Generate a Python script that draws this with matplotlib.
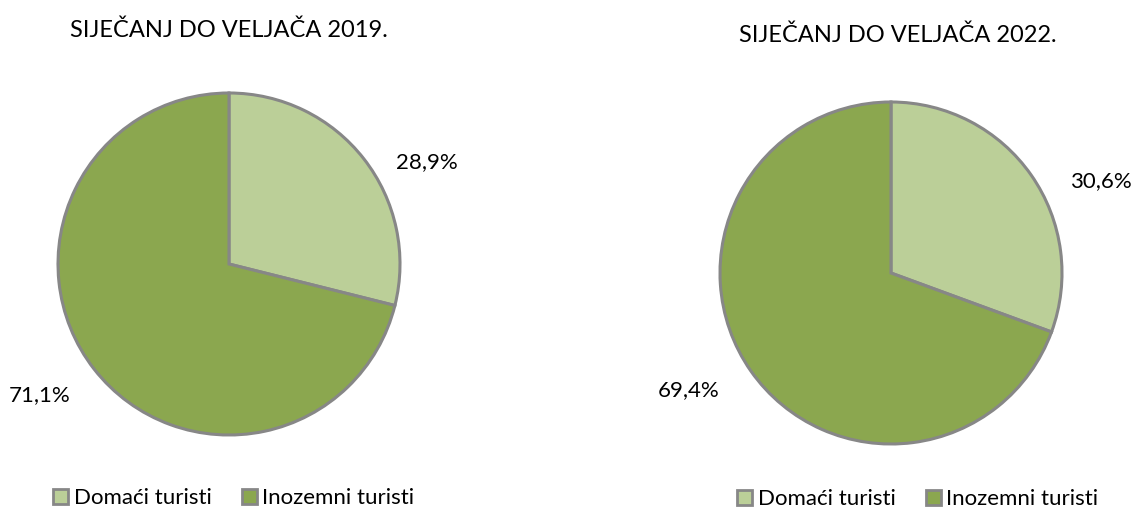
import matplotlib.pyplot as plt
from matplotlib.patches import Patch

plt.rcParams['font.family'] = ['Lato', 'DejaVu Sans']

categories = ["Domaći turisti", "Inozemni turisti"]
titles = ["SIJEČANJ DO VELJAČA 2019.", "SIJEČANJ DO VELJAČA 2022."]
shares_2019 = [28.9, 71.1]
shares_2022 = [30.6, 69.4]
colors = ["#BBCF98", "#8BA74F"]
edge = "#878787"

W, H = 1134, 509
fig = plt.figure(figsize=(W / 100, H / 100), dpi=100)

# pixel layout: pie centre/radius, label centres, title left edge, legend left edge
panels = [
    dict(vals=shares_2019, cx=229, cy=264, r=171, title=titles[0], tpos=(70, 30),
         lab=[(427, 162), (40, 395)], leg=(53, 498)),
    dict(vals=shares_2022, cx=891, cy=273, r=171, title=titles[1], tpos=(739, 35),
         lab=[(1101, 181), (689, 390)], leg=(737, 499)),
]

for p in panels:
    cx, cy, r = p["cx"], p["cy"], p["r"]
    ax = fig.add_axes([(cx - r) / W, (H - cy - r) / H, 2 * r / W, 2 * r / H])
    ax.pie(p["vals"], colors=colors, startangle=90, counterclock=False,
           wedgeprops=dict(edgecolor=edge, linewidth=2.2))
    ax.set_xlim(-1, 1)
    ax.set_ylim(-1, 1)
    ax.set_aspect("equal")
    ax.axis("off")
    for v, (lx, ly) in zip(p["vals"], p["lab"]):
        ax.text((lx - cx) / r, (cy - ly) / r, f"{v:.1f}%".replace(".", ","),
                ha="center", va="center", fontsize=16, clip_on=False)
    fig.text(p["tpos"][0] / W, 1 - p["tpos"][1] / H, p["title"],
             ha="left", va="center", fontsize=17)
    handles = [Patch(facecolor=c, edgecolor=edge, linewidth=2) for c in colors]
    fig.legend(handles, categories, loc="center left",
               bbox_to_anchor=(p["leg"][0] / W, 1 - p["leg"][1] / H),
               ncol=2, frameon=False, fontsize=16, handlelength=0.68,
               handleheight=0.68, handletextpad=0.25, columnspacing=1.35,
               borderaxespad=0, borderpad=0)

plt.savefig("out.png", dpi=100)
